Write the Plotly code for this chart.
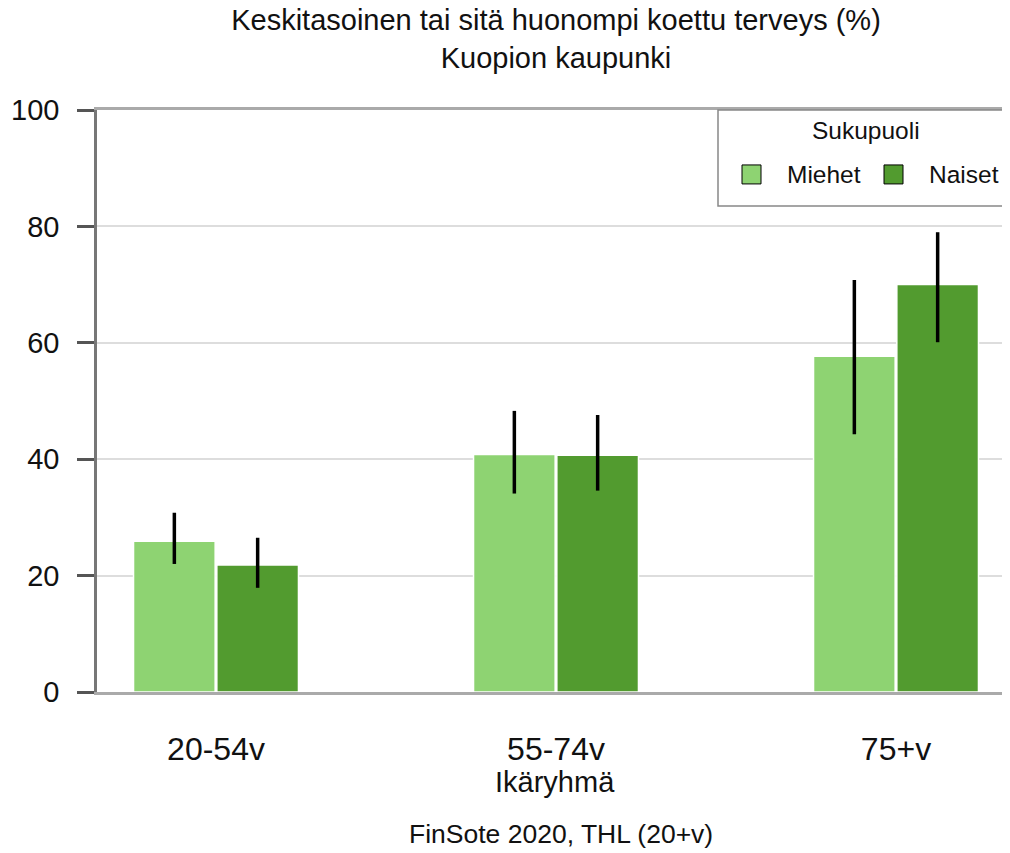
import plotly.graph_objects as go

categories = ["20-54v", "55-74v", "75+v"]
miehet = [25.9, 40.8, 57.7]
miehet_hi = [30.8, 48.3, 70.8]
miehet_lo = [22.0, 34.1, 44.3]
naiset = [21.8, 40.7, 70.0]
naiset_hi = [26.5, 47.6, 79.0]
naiset_lo = [17.9, 34.6, 60.1]
y_ticks = [0, 20, 40, 60, 80, 100]
series_names = ["Miehet", "Naiset"]

C_M = "#8ed372"
C_N = "#529b2f"
FONT = "Liberation Sans, Arial, sans-serif"

W, H = 1010, 853
OFF = 8  # page offset of the figure inside the window
PL, PR, PT, PB = 97, 1015, 110, 692.5  # plot area in window pixels
L, T = PL - OFF, PT - OFF
R, B = W - (PR - OFF), H - (PB - OFF)


def px(x):
    return (x - PL) / (PR - PL)


def py(y):
    return (PB - y) / (PB - PT)


fig = go.Figure()


def add_series(name, vals, hi, lo, color):
    fig.add_trace(go.Bar(
        x=categories, y=vals, name=name, showlegend=False,
        marker=dict(color=color, line=dict(color="white", width=1.5)),
        error_y=dict(type="data", symmetric=False,
                     array=[h - v for h, v in zip(hi, vals)],
                     arrayminus=[v - l for v, l in zip(vals, lo)],
                     color="black", thickness=3.5, width=0),
    ))


add_series(series_names[0], miehet, miehet_hi, miehet_lo, C_M)
add_series(series_names[1], naiset, naiset_hi, naiset_lo, C_N)

shapes = [
    dict(type="rect", xref="paper", yref="paper",
         x0=px(718), x1=px(1013), y0=py(206), y1=py(110),
         line=dict(color="#888888", width=1.5), fillcolor="white", layer="above"),
    dict(type="rect", xref="paper", yref="paper",
         x0=px(742), x1=px(761), y0=py(184), y1=py(165),
         line=dict(color="black", width=1), fillcolor=C_M, layer="above"),
    dict(type="rect", xref="paper", yref="paper",
         x0=px(884), x1=px(903), y0=py(184), y1=py(165),
         line=dict(color="black", width=1), fillcolor=C_N, layer="above"),
]

annotations = [
    dict(text="Sukupuoli", xref="paper", yref="paper", x=px(866), y=py(131),
         xanchor="center", yanchor="middle", showarrow=False,
         font=dict(size=24.5, family=FONT)),
    dict(text=series_names[0], xref="paper", yref="paper", x=px(785), y=py(175),
         xanchor="left", yanchor="middle", showarrow=False,
         font=dict(size=24.5, family=FONT)),
    dict(text=series_names[1], xref="paper", yref="paper", x=px(927), y=py(175),
         xanchor="left", yanchor="middle", showarrow=False,
         font=dict(size=24.5, family=FONT)),
    dict(text="Ikäryhmä", xref="paper", yref="paper", x=px(555), y=py(783),
         xanchor="center", yanchor="middle", showarrow=False,
         font=dict(size=29, family=FONT)),
    dict(text="FinSote 2020, THL (20+v)", xref="paper", yref="paper",
         x=px(561), y=py(835), xanchor="center", yanchor="middle",
         showarrow=False, font=dict(size=26.5, family=FONT)),
]

fig.update_layout(
    width=W, height=H,
    margin=dict(l=L, r=R, t=T, b=B, autoexpand=False),
    paper_bgcolor="white", plot_bgcolor="white",
    font=dict(family=FONT, color="#111111", size=22),
    barmode="group", bargap=0.51, bargroupgap=0.02,
    showlegend=False,
    title=dict(
        text="Keskitasoinen tai sitä huonompi koettu terveys (%)<br>Kuopion kaupunki",
        xref="paper", x=px(556), xanchor="center",
        yref="container", y=1 - 22 / H, yanchor="middle",
        font=dict(size=29, family=FONT, color="#111111"),
    ),
    xaxis=dict(
        type="category", range=[-0.35, 2.35], automargin=False,
        showline=True, linecolor="#aaaaaa", linewidth=2.5, mirror=True,
        ticks="", tickfont=dict(size=32), ticklabelstandoff=27,
        showgrid=False,
    ),
    yaxis=dict(
        range=[0, 100], tickvals=y_ticks, ticks="outside", ticklen=17,
        tickwidth=2.5, tickcolor="#555555", automargin=False,
        showline=True, linecolor="#777777", linewidth=2.5,
        showgrid=True, gridcolor="#dddddd", gridwidth=1.5,
        zeroline=False, tickfont=dict(size=29), ticklabelstandoff=12,
    ),
    shapes=shapes,
    annotations=annotations,
)

fig.write_html("out.html")
